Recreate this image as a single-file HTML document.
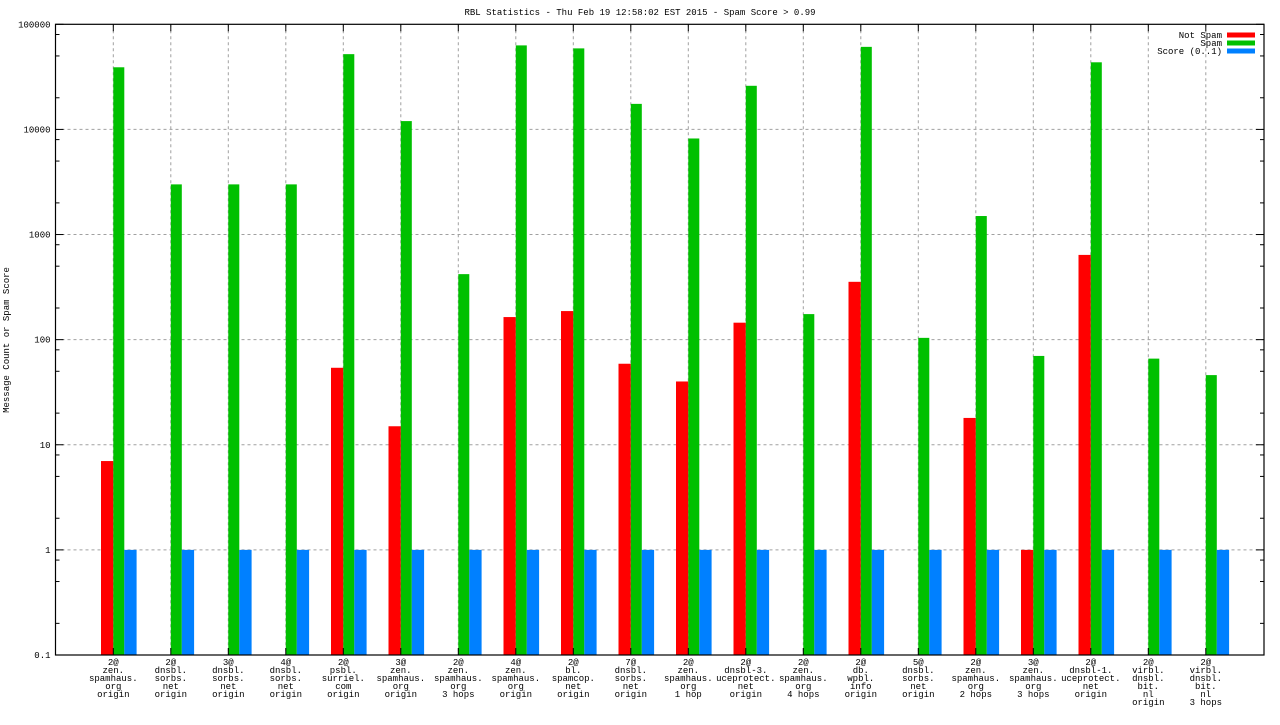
<!DOCTYPE html>
<html><head><meta charset="utf-8"><style>
html,body{margin:0;padding:0;background:#fff;}
svg text{font-family:"Liberation Mono","DejaVu Sans Mono",monospace;font-size:9px;fill:#000;}
</style></head><body>
<svg id="chart" width="1280" height="720" xmlns="http://www.w3.org/2000/svg">
<text x="640" y="15" text-anchor="middle">RBL Statistics - Thu Feb 19 12:58:02 EST 2015 - Spam Score &gt; 0.99</text>
<text transform="translate(9,340) rotate(-90)" text-anchor="middle">Message Count or Spam Score</text>
<g id="grid"></g><g id="bars"></g><g id="axes"></g><g id="legend"></g>
</svg>
<script>
const categories=[
["2@","zen.","spamhaus.","org","origin"],["2@","dnsbl.","sorbs.","net","origin"],["3@","dnsbl.","sorbs.","net","origin"],["4@","dnsbl.","sorbs.","net","origin"],
["2@","psbl.","surriel.","com","origin"],["3@","zen.","spamhaus.","org","origin"],["2@","zen.","spamhaus.","org","3 hops"],["4@","zen.","spamhaus.","org","origin"],
["2@","bl.","spamcop.","net","origin"],["7@","dnsbl.","sorbs.","net","origin"],["2@","zen.","spamhaus.","org","1 hop"],["2@","dnsbl-3.","uceprotect.","net","origin"],
["2@","zen.","spamhaus.","org","4 hops"],["2@","db.","wpbl.","info","origin"],["5@","dnsbl.","sorbs.","net","origin"],["2@","zen.","spamhaus.","org","2 hops"],
["3@","zen.","spamhaus.","org","3 hops"],["2@","dnsbl-1.","uceprotect.","net","origin"],["2@","virbl.","dnsbl.","bit.","nl","origin"],["2@","virbl.","dnsbl.","bit.","nl","3 hops"]];
const notSpam=[7,0,0,0,54,15,0,164,187,59,40,145,0,355,0,18,1,640,0,0];
const spam=[39000,3000,3000,3000,52000,12000,420,63000,59000,17500,8200,26000,175,61000,104,1500,70,43500,66,46];
const score=[1,1,1,1,1,1,1,1,1,1,1,1,1,1,1,1,1,1,1,1];
const yTicks=[0.1,1,10,100,1000,10000,100000];
const yTickLabels=["0.1","1","10","100","1000","10000","100000"];
const seriesNames=["Not Spam","Spam","Score (0..1)"];
const colors=["#ff0000","#00c000","#0080ff"];

const NS="http://www.w3.org/2000/svg";
const L=55.5,R=1264,T=24.3,B=655;
const y=v=>B-(Math.log10(v)+1)*(B-T)/6;
const x=i=>113.3+i*57.5;
function mk(tag,attrs,parent){const e=document.createElementNS(NS,tag);for(const k in attrs)e.setAttribute(k,attrs[k]);parent.appendChild(e);return e;}
const grid=document.getElementById('grid'),bars=document.getElementById('bars'),axes=document.getElementById('axes'),leg=document.getElementById('legend');
yTicks.forEach((v,i)=>{
  if(i>0&&i<yTicks.length-1){const g=mk('line',{x1:L,x2:R,y1:y(v),y2:y(v),stroke:'#a0a0a0','stroke-dasharray':'3,3'},grid);
  
  }
  const t=mk('text',{x:L-5,y:y(v)+3,'text-anchor':'end'},axes);t.textContent=yTickLabels[i];
  
  
  mk('line',{x1:L,x2:L+8,y1:y(v),y2:y(v),stroke:'#000'},axes);
  mk('line',{x1:R,x2:R-8,y1:y(v),y2:y(v),stroke:'#000'},axes);
  if(i<yTicks.length-1)[2,5,8].forEach(m=>{const yy=y(v*m);
    mk('line',{x1:L,x2:L+4,y1:yy,y2:yy,stroke:'#000'},axes);
    mk('line',{x1:R,x2:R-4,y1:yy,y2:yy,stroke:'#000'},axes);});
});
categories.forEach((c,i)=>{
  const g=mk('line',{x1:x(i),x2:x(i),y1:T,y2:B,stroke:'#a0a0a0','stroke-dasharray':'3,3'},grid);
  
  
  mk('line',{x1:x(i),x2:x(i),y1:T,y2:T+7,stroke:'#000'},axes);
  mk('line',{x1:x(i),x2:x(i),y1:B,y2:B-7,stroke:'#000'},axes);
  const t=mk('text',{x:x(i),y:665,'text-anchor':'middle'},axes);
  
  
  c.forEach((s,j)=>{const ts=mk('tspan',{x:x(i),dy:j?8:0},t);ts.textContent=s;});
  [[notSpam[i],x(i)-12.3,12.3,0],[spam[i],x(i),11,1],[score[i],x(i)+11,12.3,2]].forEach(([v,bx,w,k])=>{
    if(v>0){const r=mk('rect',{x:bx,y:y(v),width:w,height:B-y(v),fill:colors[k]},bars);
    
    }
  });
});
const fr=mk('rect',{x:L,y:T,width:R-L,height:B-T,fill:'none',stroke:'#000','stroke-width':1.2},axes);


seriesNames.forEach((n,k)=>{
  const yy=35+k*8;
  const t=mk('text',{x:1222,y:yy+3,'text-anchor':'end'},leg);t.textContent=n;
  
  
  const r=mk('rect',{x:1227,y:yy-2.5,width:28,height:5,fill:colors[k]},leg);
  
  
});
</script>
</body></html>
